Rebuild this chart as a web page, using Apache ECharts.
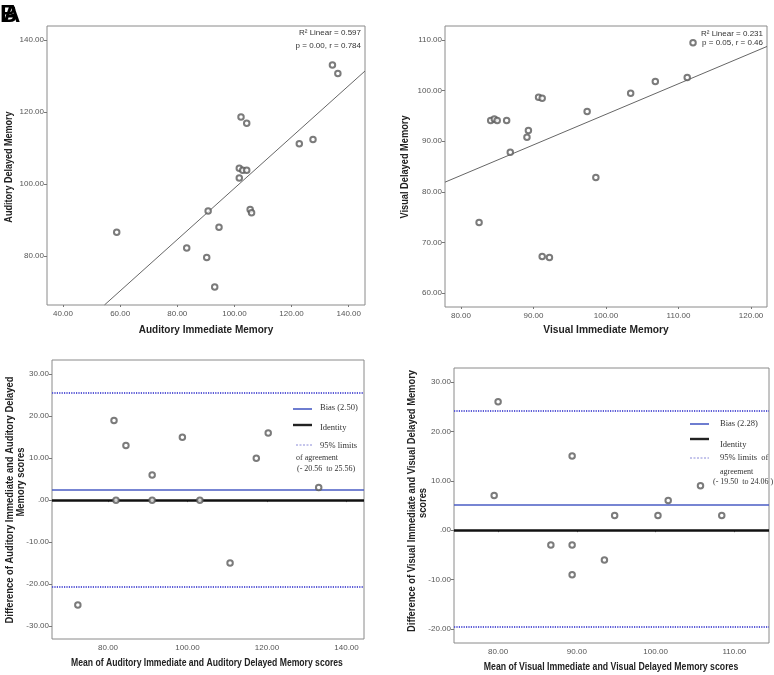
<!DOCTYPE html>
<html><head><meta charset="utf-8">
<script src="https://cdn.jsdelivr.net/npm/echarts@6/dist/echarts.min.js"></script>
<style>html,body{margin:0;padding:0;background:#fff}#c{width:774px;height:675px}</style>
</head><body><div id="c"></div>
<script>
// ---- Panel 1: auditory scatter ----
const audImm = [134.3,136.2,102.3,104.3,122.7,127.5,101.7,102.9,104.3,101.7,90.8,105.5,106.0,94.6,58.8,83.3,90.3,93.1];
const audDel = [133.1,130.7,118.6,116.9,111.2,112.4,104.4,103.8,103.8,101.7,92.5,92.9,92.0,88.0,86.6,82.2,79.6,71.4];
const audFitX = [54.5,145.7];
const audFitY = [66.4,131.4];
const audXTicks = [40,60,80,100,120,140];
const audYTicks = [80,100,120,140];
// ---- Panel 2: visual scatter ----
const visImm = [112.0,111.2,106.8,103.4,90.7,91.2,97.4,84.1,84.6,85.0,86.3,89.3,89.1,86.8,98.6,82.5,91.2,92.2];
const visDel = [109.5,102.6,101.8,99.5,98.7,98.5,95.9,94.1,94.4,94.1,94.1,92.1,90.8,87.8,82.8,73.9,67.2,67.0];
const visFitX = [77.8,122.2];
const visFitY = [81.9,108.75];
const visXTicks = [80,90,100,110,120];
const visYTicks = [60,70,80,90,100,110];
// ---- Panel 3: auditory Bland-Altman ----
const audMean = [81.5,84.5,98.7,91.1,117.3,120.3,133.0,82.0,91.1,103.1,110.7,72.4];
const audDiff = [19,13,15,6,10,16,3,0,0,0,-15,-25];
const audBias = 2.50, audUpper = 25.56, audLower = -20.56, audIdentity = 0;
const baAudXTicks = [80,100,120,140];
const baAudYTicks = [-30,-20,-10,0,10,20,30];
// ---- Panel 4: visual Bland-Altman ----
const visMean = [80.0,79.5,89.4,94.8,100.3,101.6,105.7,108.4,86.7,89.4,93.5,89.4];
const visDiff = [26,7,15,3,3,6,9,3,-3,-3,-6,-9];
const visBias = 5.07, visUpper = 24.06, visLower = -19.50, visIdentity = 0;
const baVisXTicks = [80,90,100,110];
const baVisYTicks = [-20,-10,0,10,20,30];

const zip = (a,b) => a.map((v,i)=>[v,b[i]]);
const fmt = v => { const s = Number(v).toFixed(2); return s.replace(/^(-?)0\./,'$1.'); };
const SANS = 'Liberation Sans, Arial, sans-serif';
const SERIF = 'Liberation Serif, Times New Roman, serif';

function gridCfg(l,t,r,b){return {left:l,top:t,right:r,bottom:b,show:true,borderColor:'#8a8a8a',borderWidth:1,backgroundColor:'#fff',containLabel:false,outerBoundsMode:'none'};}
function axis(gi,min,max,ticks,isX){
  return {type:'value',gridIndex:gi,min:min,max:max,splitLine:{show:false},
    axisLine:{show:false},
    axisTick:{show:true,inside:false,length:isX?2:3,lineStyle:{color:'#777'},customValues:ticks},
    axisLabel:{customValues:ticks,formatter:fmt,fontSize:8,color:'#555',fontFamily:SANS,margin:isX?5:3}};
}
const ptStyle = {color:'#5a5a5a',borderColor:'#5a5a5a',borderWidth:1};
function scatter(gi,data){return {type:'scatter',xAxisIndex:gi,yAxisIndex:gi,data:data,symbol:'emptyCircle',symbolSize:5.5,itemStyle:ptStyle,z:5,silent:true};}
function fit(gi,xs,ys){return {type:'line',xAxisIndex:gi,yAxisIndex:gi,data:zip(xs,ys),symbol:'none',lineStyle:{color:'#666',width:1},silent:true,z:3};}
function ba(gi,data,bias,upper,lower,ident){
  const s = scatter(gi,data);
  s.markLine = {silent:true,symbol:'none',label:{show:false},animation:false,data:[
    {yAxis:upper,lineStyle:{color:'#5b5bd6',type:[1.2,1.2],width:2}},
    {yAxis:lower,lineStyle:{color:'#5b5bd6',type:[1.2,1.2],width:2}},
    {yAxis:bias,lineStyle:{color:'#4a5cc4',type:'solid',width:1.6}},
    {yAxis:ident,lineStyle:{color:'#111',type:'solid',width:2.6}}
  ]};
  return s;
}
function txt(x,y,s,size,sx){return {type:'text',x:x,y:y,scaleX:sx,style:{text:s,fill:'#222',font:'bold '+size+'px '+SANS,textAlign:'center',textVerticalAlign:'middle'}};}
function rtxt(x,y,s,size,sx){return {type:'text',x:x,y:y,rotation:Math.PI/2,scaleX:sx,style:{text:s,fill:'#222',font:'bold '+size+'px '+SANS,textAlign:'center',textVerticalAlign:'middle'}};}
function small(x,y,s){return {type:'text',x:x,y:y,style:{text:s,fill:'#333',font:'8px '+SANS,textAlign:'right',textVerticalAlign:'middle'}};}
function ser(x,y,s,size){return {type:'text',x:x,y:y,style:{text:s,fill:'#333',font:(size||8.5)+'px '+SERIF,textAlign:'left',textVerticalAlign:'middle'}};}
function key(x1,x2,y,color,w,dash){return {type:'line',shape:{x1:x1,y1:y,x2:x2,y2:y},style:{stroke:color,lineWidth:w,lineDash:dash||null}};}

const chart = echarts.init(document.getElementById('c'),null,{renderer:'canvas'});
chart.setOption({
  animation:false,
  backgroundColor:'#fff',
  grid:[gridCfg(47,26,409,370),gridCfg(445,26,7,368),gridCfg(52,360,410,36),gridCfg(454,368,5,32)],
  xAxis:[axis(0,34.4,145.7,audXTicks,true),axis(1,77.8,122.2,visXTicks,true),axis(2,65.9,144.4,baAudXTicks,true),axis(3,74.4,114.4,baVisXTicks,true)],
  yAxis:[axis(0,66.4,143.9,audYTicks,false),axis(1,57.2,112.8,visYTicks,false),axis(2,-33.1,33.4,baAudYTicks,false),axis(3,-22.8,32.8,baVisYTicks,false)],
  series:[
    fit(0,audFitX,audFitY), scatter(0,zip(audImm,audDel)),
    fit(1,visFitX,visFitY), scatter(1,zip(visImm,visDel)),
    ba(2,zip(audMean,audDiff),audBias,audUpper,audLower,audIdentity),
    ba(3,zip(visMean,visDiff),visBias,visUpper,visLower,visIdentity)
  ],
  graphic:[
    {type:'text',x:0,y:3,style:{text:'B',fill:'#000',font:'bold 24px '+SANS}},
    {type:'text',x:3,y:3,style:{text:'A',fill:'#000',font:'bold 24px '+SANS}},
    // panel 1 texts
    rtxt(9,167,'Auditory Delayed Memory',11,0.82),
    txt(206,330,'Auditory Immediate Memory',11,0.91),
    small(361,33,'R² Linear = 0.597'),
    small(361,46,'p = 0.00, r = 0.784'),
    // panel 2 texts
    rtxt(405,167,'Visual Delayed Memory',11,0.84),
    txt(606,330,'Visual Immediate Memory',11,0.93),
    small(763,34,'R² Linear = 0.231'),
    small(763,43,'p = 0.05, r = 0.46'),
    // panel 3 texts
    rtxt(10,500,'Difference of Auditory Immediate and Auditory Delayed',10.5,0.895),
    rtxt(21,482,'Memory scores',10.5,0.895),
    txt(207,663,'Mean of Auditory Immediate and Auditory Delayed Memory scores',10.5,0.82),
    key(293,312,409,'#4a5cc4',1.6), ser(320,408,'Bias (2.50)'),
    key(293,312,425,'#222',2.4), ser(320,428,'Identity'),
    key(296,312,445,'#8a8ad8',1,[2,1.5]), ser(320,446,'95% limits'),
    ser(296,458,'of agreement',8),
    ser(297,469,'(- 20.56  to 25.56)',8),
    // panel 4 texts
    rtxt(412,501,'Difference of Visual Immediate and Visual Delayed Memory',10.5,0.89),
    rtxt(423,503,'scores',10.5,0.89),
    txt(611,667,'Mean of Visual Immediate and Visual Delayed Memory scores',10.5,0.83),
    key(690,709,424,'#4a5cc4',1.6), ser(720,424,'Bias (2.28)'),
    key(690,709,439,'#222',2.4), ser(720,445,'Identity'),
    key(690,709,458,'#8a8ad8',1,[2,1.5]), ser(720,458,'95% limits  of'),
    ser(720,472,'agreement',8),
    ser(713,482,'(- 19.50  to 24.06 )',8)
  ]
});
</script></body></html>
